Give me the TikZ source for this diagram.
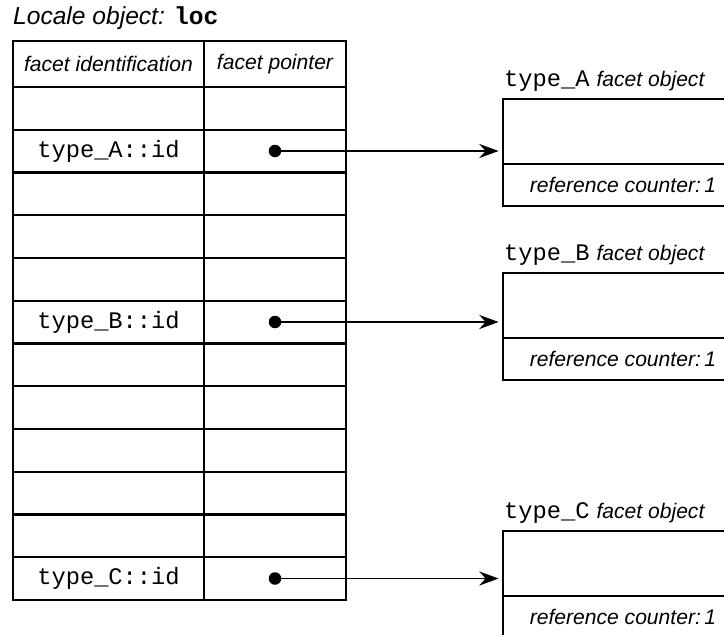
\documentclass[tikz,border=0pt]{standalone}
\usepackage{fontspec}
\setmainfont{Liberation Sans}
\setmonofont{Liberation Mono}
\usetikzlibrary{arrows.meta,positioning}

\tikzset{
  lbl/.style={font=\fontsize{12}{13}\selectfont\itshape},
  code/.style={font=\fontsize{13.5}{15}\selectfont\ttfamily},
  objbox/.style={draw, line width=1.3pt, outer sep=0pt, minimum width=4.8cm, minimum height=1.3cm, anchor=north west, inner sep=0pt},
  cntbox/.style={draw, line width=1.3pt, outer sep=0pt, minimum width=4.8cm, minimum height=0.84cm, anchor=north, inner sep=0pt, lbl},
  ptr/.style={circle, fill, inner sep=0pt, minimum size=0.25cm},
}

\begin{document}
\begin{tikzpicture}[>={Stealth[length=11pt,width=8pt]}, line width=1.3pt]
  \path[use as bounding box, clip] (0,0) rectangle (14.48,-12.7);

  % title
  \node[anchor=west, inner sep=0pt, font=\fontsize{14}{16}\selectfont] (title) at (0.24,-0.36)
    {\itshape Locale object: \normalfont\ttfamily\bfseries loc};

  % table of facets
  \draw (0.26,-0.82) rectangle (6.92,-12.0);
  \draw (4.08,-0.82) -- (4.08,-12.0);
  \foreach \i in {0,...,11}
    \draw (0.26,-1.74-\i*0.855) -- (6.92,-1.74-\i*0.855);
  \node[lbl] (hdid) at (2.17,-1.28) {facet identification};
  \node[lbl] (hdptr) at (5.5,-1.28) {facet pointer};

  % facet objects
  \foreach \n/\ry/\oy in {A/-3.02/-1.98, B/-6.44/-5.46, C/-11.57/-10.62} {
    \node[code] (id\n) at (2.17,\ry) {type\_\n::id};
    \node[ptr] (ptr\n) at (5.5,\ry) {};
    \node[objbox] (obj\n) at (10.06,\oy) {};
    \node[cntbox] (cnt\n) at (obj\n.south) {reference counter:\,1};
    \node[anchor=base west, inner sep=0pt, lbl] (name\n) at ([yshift=0.26cm]obj\n.north west)
      {{\fontsize{13.5}{15}\selectfont\upshape\ttfamily type\_\n}\hspace{0.14cm}facet object};
    \draw[->, line width=1pt, shorten >=2.5pt] (ptr\n.center) -- (ptr\n -| obj\n.west);
  }
\end{tikzpicture}
\end{document}
